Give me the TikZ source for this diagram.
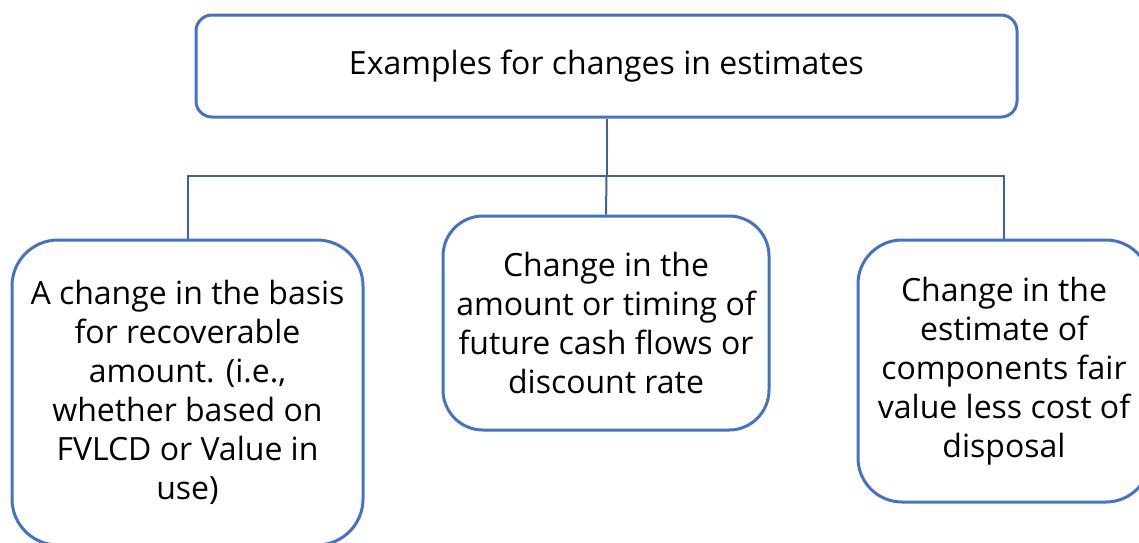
\documentclass[tikz,border=0pt]{standalone}
\usepackage{fontspec}
\setmainfont{Open Sans}
\begin{document}
\begin{tikzpicture}[x=1pt,y=-1pt,
  box/.style={draw=boxblue, line width=3pt, fill=white, align=center,
    inner sep=0pt, font=\fontsize{32}{39}\selectfont},
  link/.style={draw=linkblue, line width=2pt}]
\definecolor{boxblue}{HTML}{4472C4}
\definecolor{linkblue}{HTML}{3F62A5}
\useasboundingbox (0,0) rectangle (1139,542);
\clip (0,0) rectangle (1139,542);
% heading
\node[box, rounded corners=16pt, minimum width=821pt, minimum height=102pt]
  (top) at (606.5,66) {Examples for changes in estimates};
% three examples
\node[box, rounded corners=46pt, minimum width=351pt, minimum height=305pt]
  (left) at (187.5,392.5) {A change in the basis\\for recoverable\\amount. (i.e.,\\whether based on\\FVLCD or Value in\\use)};
\node[box, rounded corners=40pt, minimum width=326pt, minimum height=214pt]
  (mid) at (606,323) {Change in the\\amount or timing of\\future cash flows or\\discount rate};
\node[box, rounded corners=44pt, minimum width=292pt, minimum height=262pt]
  (right) at (1004,371) {Change in the\\estimate of\\components fair\\value less cost of\\disposal};
% connectors
\coordinate (bus) at (606.5,176);
\draw[link] (top.south) -- (bus);
\draw[link] (left.north) |- (bus) -| (right.north);
\draw[link] (bus) -- (mid.north);
\end{tikzpicture}
\end{document}
